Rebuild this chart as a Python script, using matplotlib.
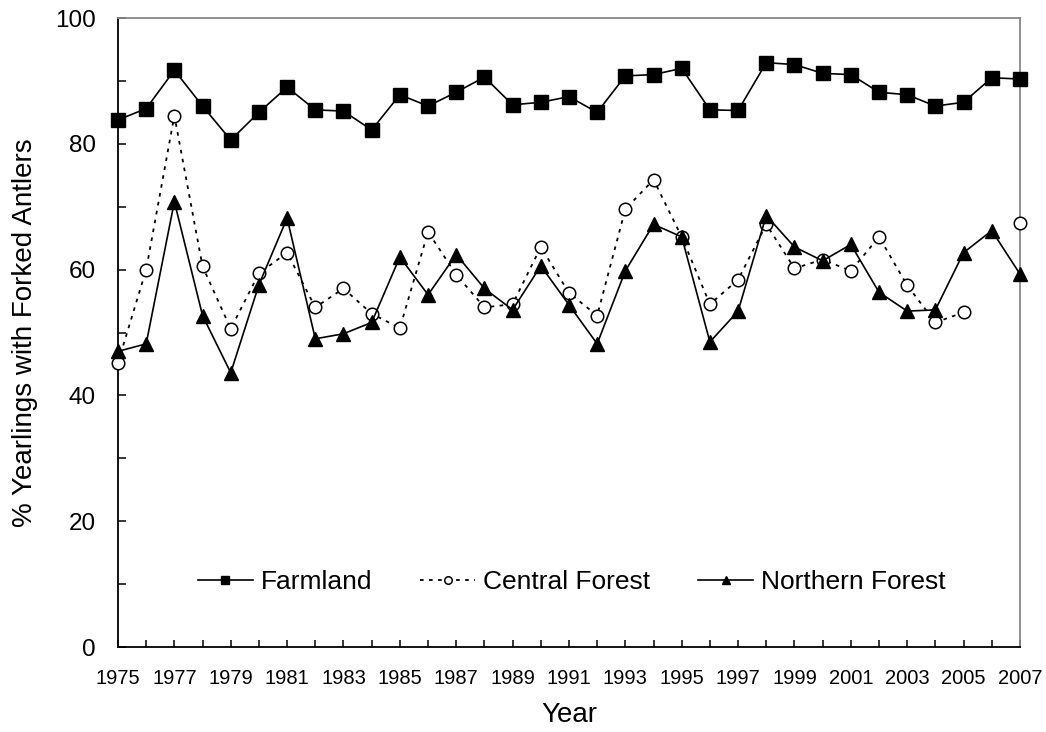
import matplotlib
matplotlib.use("Agg")
import matplotlib.pyplot as plt
import numpy as np

plt.rcParams['font.family'] = ['Liberation Sans', 'DejaVu Sans']

years = list(range(1975, 2008))

farmland = [83.8, 85.6, 91.7, 86.0, 80.6, 85.0, 89.0, 85.4, 85.2, 82.2,
            87.8, 86.0, 88.2, 90.6, 86.2, 86.6, 87.5, 85.0, 90.8, 91.0,
            92.0, 85.4, 85.3, 92.9, 92.6, 91.2, 91.0, 88.2, 87.8, 86.0,
            86.6, 90.5, 90.3]

central = [45.2, 60.0, 84.5, 60.5, 50.6, 59.4, 62.7, 54.0, 57.0, 53.0,
           50.7, 66.0, 59.2, 54.0, 54.5, 63.6, 56.3, 52.7, 69.6, 74.3,
           65.2, 54.5, 58.4, 67.2, 60.2, 61.6, 59.8, 65.2, 57.5, 51.6,
           53.2, np.nan, 67.4]

northern = [47.0, 48.2, 70.8, 52.7, 43.6, 57.6, 68.2, 49.0, 49.8, 51.6,
            62.0, 56.0, 62.4, 57.0, 53.6, 60.6, 54.4, 48.2, 59.8, 67.2,
            65.2, 48.5, 53.4, 68.6, 63.6, 61.4, 64.0, 56.4, 53.4, 53.6,
            62.7, 66.2, 59.3]

fig = plt.figure(figsize=(10.46, 7.32), dpi=100)
ax = fig.add_axes([0.1128, 0.1161, 0.8623, 0.8593])

ax.plot(years, farmland, color='black', lw=1.2, marker='s', ms=10,
        label='Farmland', clip_on=False, zorder=3)
ax.plot(years, central, color='black', lw=1.3, ls=(0, (2, 3)), marker='o',
        ms=9, mfc='white', mec='black', mew=1.1, label='Central Forest',
        clip_on=False, zorder=3)
ax.plot(years, northern, color='black', lw=1.2, marker='^', ms=10.5,
        label='Northern Forest', clip_on=False, zorder=3)

ax.set_xlim(1975, 2007)
ax.set_ylim(0, 100)
ax.set_xticks(range(1975, 2008, 2))
ax.set_xticks(range(1975, 2008), minor=True)
ax.set_yticks(range(0, 101, 20))
ax.set_yticks(range(0, 101, 10), minor=True)

ax.tick_params(axis='x', which='both', direction='in', length=5, width=1.1,
               labelsize=14.5, pad=16)
ax.tick_params(axis='y', which='both', direction='in', length=6, width=1.1,
               labelsize=17.5, pad=16)

for side in ['left', 'bottom']:
    ax.spines[side].set_linewidth(1.3)
for side in ['top', 'right']:
    ax.spines[side].set_color('#888888')
    ax.spines[side].set_linewidth(1.3)

ax.set_xlabel('Year', fontsize=20, labelpad=10)
ax.set_ylabel('% Yearlings with Forked Antlers', fontsize=20, labelpad=12)

ax.legend(loc='center', bbox_to_anchor=(0.503, 0.103), ncol=3, frameon=False,
          fontsize=19, markerscale=0.6, handlelength=2.1, handletextpad=0.3,
          columnspacing=1.8)

fig.savefig('out.png', dpi=100)
